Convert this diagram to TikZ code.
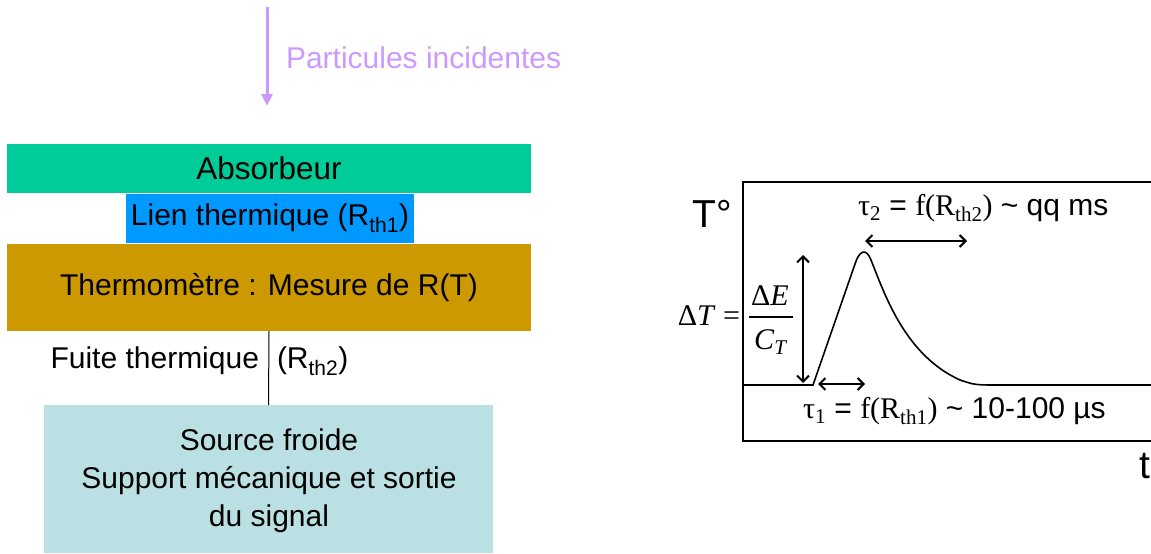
\documentclass[tikz,border=0pt]{standalone}
\usepackage{fontspec}
\setmainfont{Liberation Sans}
\newfontfamily\tms{Liberation Serif}
\usetikzlibrary{arrows.meta}
\definecolor{absc}{HTML}{00CC99}
\definecolor{lienc}{HTML}{0099FF}
\definecolor{thermc}{HTML}{CC9900}
\definecolor{srcc}{HTML}{BBE0E3}
\definecolor{partc}{HTML}{CC99FF}
\begin{document}
\begin{tikzpicture}[x=1pt,y=-1pt,
  every node/.style={font=\fontsize{30}{38}\selectfont, inner sep=0pt, outer sep=0pt},
  layer/.style={inner sep=0pt, align=center},
  big/.style={font=\fontsize{39}{44}\selectfont},
  serifbig/.style={font=\fontsize{30}{34}\selectfont\tms},
  dbl/.style={{Straight Barb[length=6pt,width=12pt,line width=2pt]}-{Straight Barb[length=6pt,width=12pt,line width=2pt]}, line width=2pt},
  axis/.style={line width=2pt},
  curve/.style={line width=1.6pt}
]
\useasboundingbox (0,0) rectangle (1151,554);

% incident particles
\coordinate (p1) at (267,7);
\coordinate (p2) at (267,106);
\draw[partc, line width=3pt, -{Triangle[length=12pt,width=11pt]}] (p1) -- (p2);
\node[partc, anchor=west] (ptxt) at (286,58) {Particules incidentes};

% layers
\node[layer, fill=absc, minimum width=524pt, minimum height=49pt, font=\fontsize{31.5}{38}\selectfont] (abs) at (269,168.5) {Absorbeur};
\node[layer, fill=lienc, minimum width=288pt, minimum height=49pt] (lien) at (270,218.5) {Lien thermique (R\textsubscript{th1})};
\node[layer, fill=thermc, minimum width=524pt, minimum height=87pt] (thermo) at (269,287.5) {Thermomètre : Mesure de R(T)};
\node[layer, fill=srcc, minimum width=449pt, minimum height=148pt, text depth=0pt] (source) at (268.5,479) {};
\node[align=center, font=\fontsize{30}{38}\selectfont] (srctxt) at (269,481) {Source froide\\Support mécanique et sortie\\du signal};
\draw[line width=1pt] (thermo.south) -- (source.north);
\node[anchor=east] (fuite) at (259,361) {Fuite thermique};
\node[anchor=west] (rth2) at (277,361) {(R\textsubscript{th2})};

% graph
\draw[axis] (1151,182) -- (743,182) -- (743,441) -- (1151,441);
\node[big] (Tdeg) at (712,214) {T°};
\node[big] (tax) at (1145,466) {t};
\draw[curve] (743,385) -- (813,385) -- (855,264)
  .. controls (859,251) and (866,247) .. (871,260)
  .. controls (885,295) and (905,355) .. (960,380)
  .. controls (975,385) .. (1000,385) -- (1151,385);

\node[serifbig, anchor=base east] (dT) at (740,325) {Δ\textit{T} =};
\node[serifbig, anchor=base] (num) at (770,305) {Δ\textit{E}};
\node[serifbig, anchor=base] (den) at (771,349) {\textit{C}\textsubscript{\textit{T}}};
\draw[line width=1.5pt] (749,317) -- (793,317);

\coordinate (v1) at (803,255);
\coordinate (v2) at (803,383);
\draw[dbl] (v1) -- (v2);
\coordinate (h1) at (865,241);
\coordinate (h2) at (967,241);
\draw[dbl] (h1) -- (h2);
\coordinate (k1) at (818,384);
\coordinate (k2) at (865,384);
\draw[dbl] (k1) -- (k2);

\node[anchor=base west] (tau2) at (858,215) {{\tms τ\textsubscript{2}} = {\tms f(R\textsubscript{th2})} \textasciitilde{} qq ms};
\node[anchor=base west] (tau1) at (803,418) {{\tms τ\textsubscript{1}} = {\tms f(R\textsubscript{th1})} \textasciitilde{} 10-100 µs};
\end{tikzpicture}
\end{document}
